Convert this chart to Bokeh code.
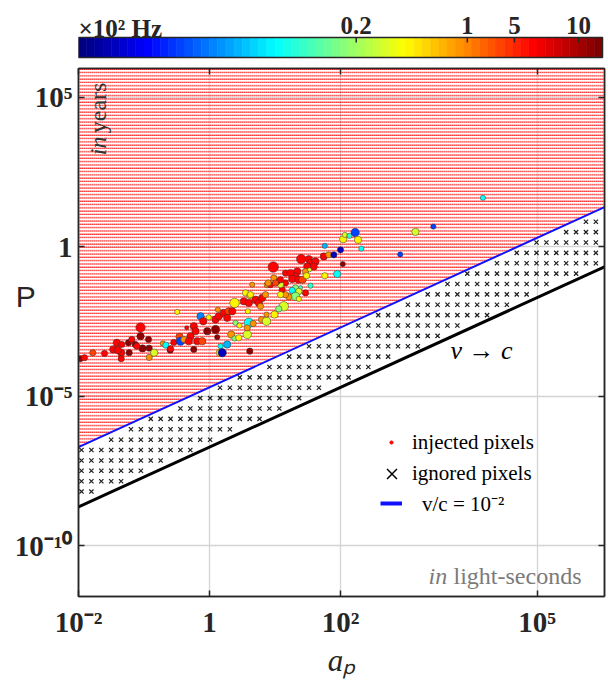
import numpy as np
from bokeh.plotting import figure
from bokeh.models import (FixedTicker, LogAxis, Label, Legend, LegendItem, Range1d)
from bokeh.core.properties import value
from bokeh.layouts import column
from bokeh.embed import file_html
from bokeh.resources import INLINE

# ---------------- data ----------------
# log10 of separation a_p (light-seconds) and of period P (years)
log_a = [-1.974, -1.908, -1.782, -1.603, -1.470, -1.415, -1.339, -1.348, -1.348, -1.400,
         -1.237, -1.186, -1.134, -1.053, -1.053, -1.023, -1.110, -0.931, -0.921, -1.226,
         -0.921, -0.844, -0.713, -0.667, -0.600, -0.545, -0.493, -0.458, -0.443, -0.392,
         -0.347, -0.137, -0.011, -0.096, -0.240, -0.214, -0.290, -0.188, -0.111, -0.316,
         -0.595, -0.240, -0.035, 0.092, 0.118, 0.092, 0.142, 0.218, 0.295, 0.347,
         0.270, 0.127, 0.168, 0.157, 0.194, 0.270, 0.331, 0.397, 0.458, 0.382,
         0.447, 0.576, 0.615, 0.382, 0.524, 0.600, 0.550, 0.615, 0.585, 0.652,
         0.702, 0.753, 0.805, 0.855, 0.881, 0.779, 0.600, 0.667, 0.576, 0.794,
         0.870, 0.870, 0.973, 1.160, 1.400, 1.516, 1.542, 1.618, 1.592, 1.492,
         1.466, 1.339, 1.313, 1.237, 1.263, 1.359, 1.420, 1.481, 1.527, 1.542,
         1.389, 1.313, 1.263, 1.363, 1.466, 1.313, 1.363, 1.211, 1.160, 1.110,
         1.160, 1.084, 1.034, 0.931, 0.982, 1.084, 1.008, 1.084, 1.134, 1.058,
         0.992, 0.896, 0.626, 1.760, 1.745, 1.821, 1.898, 2.000, 2.035, 1.760,
         1.950, 2.041, 2.066, 2.137, 2.224, 2.267, 2.318, 3.144, 3.417, 2.911,
         4.174]
log_P = [-3.743, -3.710, -3.543, -3.567, -3.433, -3.210, -3.267, -3.543, -3.743, -3.457,
         -3.210, -3.100, -3.267, -2.700, -2.990, -3.400, -3.323, -3.100, -3.390, -3.543,
         -3.700, -3.543, -3.233, -3.290, -3.457, -3.200, -2.177, -3.010, -3.157, -3.100,
         -2.710, -2.323, -2.357, -2.490, -2.657, -2.823, -2.990, -3.157, -3.157, -3.157,
         -3.410, -3.433, -2.823, -2.767, -3.023, -2.433, -2.323, -2.210, -2.157, -2.157,
         -2.377, -2.100, -3.323, -3.543, -3.543, -3.267, -2.933, -2.543, -2.633, -3.067,
         -3.043, -2.933, -3.490, -1.877, -1.823, -1.877, -1.543, -1.633, -2.157, -1.267,
         -1.767, -1.877, -1.710, -1.600, -1.267, -1.990, -2.543, -2.567, -2.710, -2.433,
         -2.490, -2.267, -0.677, -0.877, -0.410, -0.410, -0.543, -0.490, -0.657, -0.657,
         -0.823, -0.823, -0.990, -0.877, -1.077, -1.100, -1.100, -0.967, -0.767, -1.300,
         -1.367, -1.377, -1.457, -1.490, -1.543, -1.657, -1.743, -1.677, -1.600, -1.433,
         -1.210, -1.267, -1.157, -1.267, -1.043, -1.100, -1.210, -1.600, -1.990, -2.077,
         -2.267, -1.210, -1.600, 0.033, -0.323, -0.267, -0.267, -0.100, -0.577, -0.967,
         -0.910, 0.257, 0.400, 0.367, 0.480, 0.233, -0.060, 0.500, 0.680, -0.253,
         1.640]
# frequency of each source, in units of 1e2 Hz
freq = [11, 6.2, 2.8, 6.2, 6.2, 6.2, 6.2, 6.2, 6.2, 6.2,
        11, 6.2, 11, 6.2, 11, 11, 6.2, 11, 11, 11,
        0.9, 0.29, 0.9, 0.064, 11, 6.2, 0.46, 2.8, 0.016, 0.9,
        6.2, 0.025, 0.46, 6.2, 6.2, 6.2, 6.2, 6.2, 2.8, 6.2,
        6.2, 11, 11, 11, 11, 6.2, 6.2, 6.2, 2.8, 6.2,
        6.2, 0.9, 0.064, 0.46, 0.0065, 0.035, 0.9, 0.16, 0.46, 0.16,
        0.46, 0.29, 11, 0.46, 6.2, 6.2, 0.46, 0.46, 0.46, 0.9,
        6.2, 6.2, 6.2, 0.9, 0.9, 0.9, 0.064, 0.9, 0.9, 0.9,
        0.29, 0.9, 6.2, 6.2, 6.2, 6.2, 6.2, 6.2, 6.2, 6.2,
        0.9, 6.2, 6.2, 6.2, 6.2, 6.2, 2.8, 0.46, 0.29, 0.093,
        0.093, 0.16, 0.064, 0.29, 6.2, 0.16, 0.46, 0.9, 0.9, 6.2,
        6.2, 0.29, 6.2, 6.2, 0.9, 6.2, 2.8, 0.46, 0.29, 0.16,
        0.46, 0.9, 0.46, 0.035, 6.2, 0.9, 0.0065, 0.0065, 11, 0.46,
        0.064, 0.46, 0.29, 0.093, 0.016, 0.46, 0.064, 0.29, 0.016, 0.016,
        0.064]
# relative marker size of each source
rel_size = [6, 6, 6, 6, 7, 7, 6, 7, 6, 7,
            6, 6, 6, 9, 7, 7, 6, 6, 6, 6,
            6, 7, 5, 6, 6, 6, 5, 7, 8, 6,
            4, 7, 5, 7, 7, 7, 7, 7, 7, 7,
            6, 6, 7, 8, 5, 7, 7, 7, 7, 7,
            7, 5, 5, 7, 8, 7, 7, 5, 5, 5,
            6, 8, 6, 9, 7, 7, 6, 6, 5, 5,
            7, 7, 7, 6, 6, 6, 9, 6, 6, 6,
            8, 5, 10, 6, 9, 7, 7, 7, 7, 7,
            6, 7, 7, 7, 7, 7, 7, 6, 4, 5,
            4, 6, 6, 6, 6, 8, 5, 6, 6, 6,
            6, 6, 6, 6, 6, 6, 6, 6, 9, 6,
            7, 6, 6, 5, 7, 6, 6, 6, 5, 6,
            7, 7, 5, 5, 8, 7, 5, 7, 5, 5,
            5]

# colour bar: tick values (1e2 Hz) and their place along the bar
cb_tick_values = [0.2, 1, 5, 10]
cb_tick_labels = ["0.2", "1", "5", "10"]
cb_tick_pos = [0.530, 0.742, 0.832, 0.954]
cb_end_values = [0.0036, 13.0]
cb_unit = "\u00d710\u00b2 Hz"

x_ticks = [1e-2, 1.0, 1e2, 1e5]
x_tick_labels = ["10\u207b\u00b2", "1", "10\u00b2", "10\u2075"]
y_ticks = [1e-10, 1e-5, 1.0, 1e5]
y_tick_labels = ["10\u207b\u00b9\u2070", "10\u207b\u2075", "1", "10\u2075"]

speed_limits = [1.0, 1e-2]          # v/c of the black and blue lines
YEAR_S = 3.15576e7

# ---------------- helpers ----------------
SERIF = "Liberation Serif"
AX = "#262626"
X0, X1 = 1e-2, 10 ** 6.03
Y0, Y1 = 10 ** -11.7, 10 ** 5.967


def period(a, beta):
    return 2 * np.pi * np.asarray(a, dtype=float) / (beta * YEAR_S)


def jet(t):
    r = np.clip(1.5 - abs(4 * t - 3), 0, 1)
    g = np.clip(1.5 - abs(4 * t - 2), 0, 1)
    b = np.clip(1.5 - abs(4 * t - 1), 0, 1)
    return "#%02x%02x%02x" % (int(round(r * 255)), int(round(g * 255)), int(round(b * 255)))


NC = 64
JET = [jet(i / (NC - 1)) for i in range(NC)]
anchor_f = np.log10([cb_end_values[0]] + cb_tick_values + [cb_end_values[1]])
anchor_pos = [0.0] + cb_tick_pos + [1.0]
pos = np.interp(np.log10(freq), anchor_f, anchor_pos)
pt_colors = [JET[min(NC - 1, int(t * NC))] for t in pos]

a_vals = 10 ** np.array(log_a)
P_vals = 10 ** np.array(log_P)

W = 606
BL, BR = 78, 2          # left / right borders shared by both canvases
FRAME_W = W - BL - BR
BAR_W = 524
# ---------------- colour bar (y measured in px from its bottom) ----------------
CB_H = 60
cb = figure(width=W, height=CB_H,
            x_range=Range1d(0, FRAME_W / BAR_W), y_range=Range1d(0, CB_H),
            x_axis_location=None, y_axis_location=None,
            output_backend="svg", toolbar_location=None,
            min_border_left=BL, min_border_right=BR, min_border_top=0, min_border_bottom=0)
cb.grid.visible = False
cb.outline_line_color = None
edges = np.linspace(0, 1, NC + 1)
cb.quad(left=edges[:-1], right=edges[1:], bottom=3, top=23,
        fill_color=JET, line_color=JET, line_width=0.6)
cb.quad(left=[0], right=[1], bottom=[3], top=[23], fill_color=None,
        line_color=AX, line_width=1.5)
cb.segment(x0=cb_tick_pos, y0=23, x1=cb_tick_pos, y1=18, line_color=AX, line_width=1.5)
cb.text(x=cb_tick_pos, y=35, text=cb_tick_labels, text_align="center",
        text_baseline="alphabetic", text_font=value(SERIF), text_font_style="bold",
        text_font_size="25px", text_color=AX)
cb.text(x=[0], y=[32], text=[cb_unit], text_align="left", text_baseline="alphabetic",
        text_font=value(SERIF), text_font_style="bold", text_font_size="25px", text_color=AX)

# ---------------- main plot ----------------
p = figure(width=W, height=620, x_axis_type="log", y_axis_type="log",
           x_range=Range1d(X0, X1), y_range=Range1d(Y0, Y1),
           output_backend="svg", toolbar_location=None,
           min_border_left=BL, min_border_right=BR, min_border_top=8, min_border_bottom=82)
p.outline_line_color = AX
p.outline_line_width = 1.5

xt = FixedTicker(ticks=x_ticks, minor_ticks=[])
yt = FixedTicker(ticks=y_ticks, minor_ticks=[])


def style_axis(ax, ticker, ticks, labels, show, standoff):
    ax.ticker = ticker
    ax.major_label_overrides = {t: (l if show else "") for t, l in zip(ticks, labels)}
    ax.major_tick_in = 6
    ax.major_tick_out = 0
    ax.major_tick_line_color = AX
    ax.major_tick_line_width = 1.5
    ax.minor_tick_line_color = None
    ax.axis_line_color = AX
    ax.axis_line_width = 1.5
    ax.major_label_standoff = standoff
    ax.major_label_text_font = SERIF
    ax.major_label_text_font_style = "bold"
    ax.major_label_text_font_size = "29px"
    ax.major_label_text_color = AX


xa = p.xaxis[0]
ya = p.yaxis[0]
style_axis(xa, xt, x_ticks, x_tick_labels, True, 9)
style_axis(ya, yt, y_ticks, y_tick_labels, True, 6)
rax = LogAxis()
style_axis(rax, yt, y_ticks, y_tick_labels, False, 0)
p.add_layout(rax, "right")
tax = LogAxis()
style_axis(tax, xt, x_ticks, x_tick_labels, False, 0)
p.add_layout(tax, "above")

xa.axis_label = "a\u209a"
xa.axis_label_text_font = SERIF
xa.axis_label_text_font_style = "italic"
xa.axis_label_text_font_size = "31px"
xa.axis_label_text_color = AX
xa.axis_label_standoff = 2

ya.axis_label = "P\n\n"
ya.axis_label_orientation = "horizontal"
ya.axis_label_text_baseline = "bottom"
ya.axis_label_text_line_height = 1.1
ya.axis_label_text_font = "Liberation Sans"
ya.axis_label_text_font_style = "normal"
ya.axis_label_text_font_size = "30px"
ya.axis_label_text_color = AX
ya.axis_label_standoff = -24

p.xgrid[0].ticker = xt
p.ygrid[0].ticker = yt
p.grid.grid_line_color = "#d4d4d4"
p.grid.grid_line_width = 1.3

# injected pixels region (above v/c = 1e-2)
bx = [X0, X1]
blue_y = period(bx, speed_limits[1])
black_y = period(bx, speed_limits[0])
p.patch(x=[X0, X1, X1, X0], y=[blue_y[0], blue_y[1], Y1, Y1], fill_alpha=0,
        line_color=None, hatch_pattern="-", hatch_color="#ff0000",
        hatch_scale=3.3, hatch_weight=1.2, hatch_alpha=0.85)
p.patch(x=[X0, X1, X1, X0], y=[blue_y[0], blue_y[1], Y1, Y1], fill_alpha=0,
        line_color=None, hatch_pattern="|", hatch_color="white",
        hatch_scale=2.0, hatch_weight=0.6, hatch_alpha=1.0)

# ignored pixels: pixel grid between the two speed limits
gx0, gdx = -1.954, 0.151
gy0, gdy = -6.8, 0.3473
off_blue = np.log10(2 * np.pi / (speed_limits[1] * YEAR_S))
off_black = np.log10(2 * np.pi / (speed_limits[0] * YEAR_S))
gxs, gys = [], []
i = 0
while gx0 + i * gdx < np.log10(X1) - 0.02:
    lx = gx0 + i * gdx
    for j in range(-40, 40):
        ly = gy0 + j * gdy
        if lx + off_black + 0.17 < ly < lx + off_blue - 0.12:
            gxs.append(10 ** lx)
            gys.append(10 ** ly)
    i += 1
p.scatter(x=gxs, y=gys, marker="x", size=6, line_color="#1e1e1e", line_width=1.2)

# speed lines
p.line(x=bx, y=black_y, line_color="black", line_width=3)
p.line(x=bx, y=blue_y, line_color="#1010ff", line_width=2)

# sources
p.scatter(x=a_vals, y=P_vals, size=np.array(rel_size) * 1.05, marker="circle",
          fill_color=pt_colors, line_color="#303030", line_width=0.5)

# legend (proxy glyphs placed outside the visible range); one legend per entry
r_inj = p.scatter(x=[1e-4], y=[1.0], marker="circle", size=4, fill_color="red", line_color="red")
r_ign = p.scatter(x=[1e-4], y=[1.0], marker="x", size=14, line_color="black", line_width=1.5)
r_vc = p.line(x=[1e-4, 2e-4], y=[1.0, 1.0], line_color="#1010ff", line_width=4)


def add_legend(label, rend, loc, gw, gh, standoff):
    lg = Legend(items=[LegendItem(label=label, renderers=[rend])],
                location=loc, background_fill_alpha=0, border_line_color=None,
                label_text_font=SERIF, label_text_font_size="21px", label_text_color="black",
                glyph_width=gw, glyph_height=gh, label_height=gh, spacing=0,
                padding=0, margin=0, label_standoff=standoff)
    p.add_layout(lg)


add_legend("injected pixels", r_inj, (309, 140), 8, 28, 17)
add_legend("ignored pixels", r_ign, (296, 105), 35, 35, 3)
add_legend("v/c = 10\u207b\u00b2", r_vc, (302, 79), 22, 28, 20)

# text annotations inside the frame
def lab(x, y, text, size, style="normal", color=AX, font=SERIF, align="left",
        baseline="middle", angle=0.0):
    p.add_layout(Label(x=x, y=y, text=text, text_font=font, text_font_size=size,
                       text_font_style=style, text_color=color, text_align=align,
                       text_baseline=baseline, angle=angle))

lab(10 ** -1.695, 10 ** 3.067, "in", "24px", "italic", "#333333", angle=np.pi / 2)
lab(10 ** -1.695, 10 ** 3.80, "years", "24px", "normal", "#333333", angle=np.pi / 2)
lab(10 ** 3.344, 10 ** -11.0, "in", "24px", "italic", "#7a7a7a")
lab(10 ** 3.725, 10 ** -11.0, "light-seconds", "24px", "normal", "#7a7a7a")
lab(10 ** 3.679, 10 ** -3.467, "v \u2192 c", "26px", "italic", "black")

layout = column(cb, p)
open("out.html", "w").write(file_html(layout, INLINE))
